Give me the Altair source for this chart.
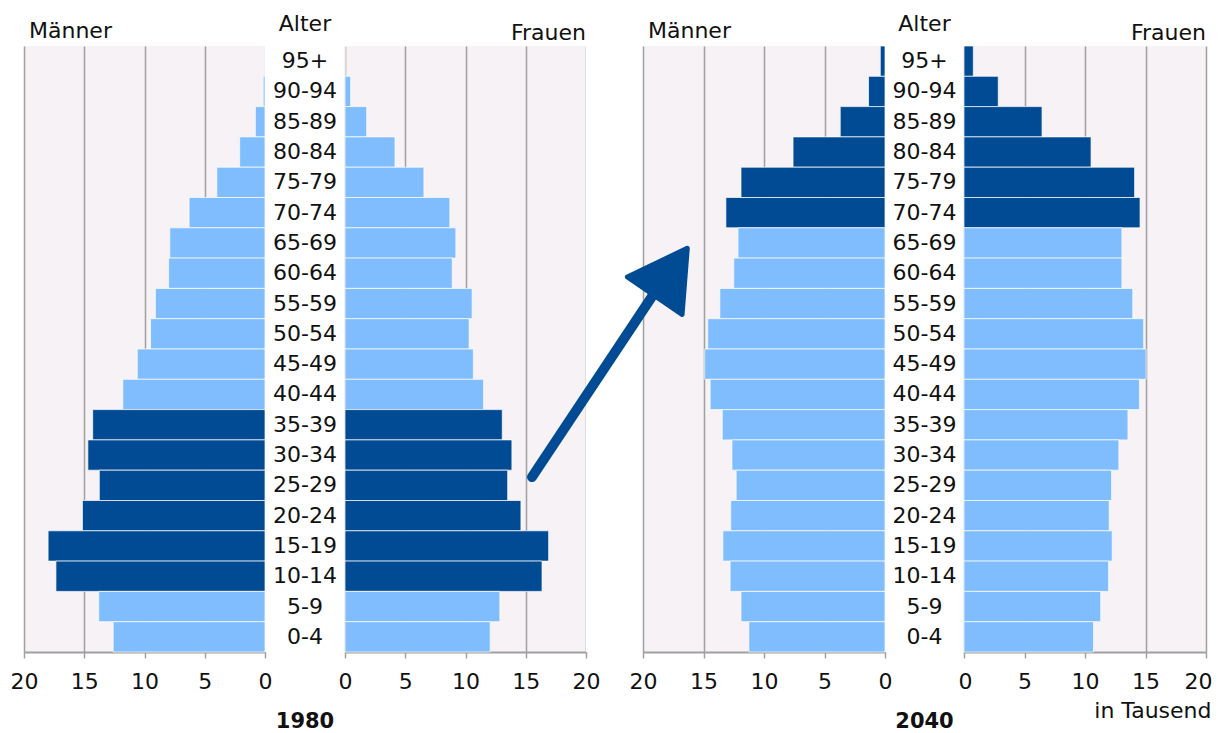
import altair as alt
import pandas as pd

# ---------------- data ----------------
ages = ["95+", "90-94", "85-89", "80-84", "75-79", "70-74", "65-69", "60-64",
        "55-59", "50-54", "45-49", "40-44", "35-39", "30-34", "25-29", "20-24",
        "15-19", "10-14", "5-9", "0-4"]

men_1980 = [0.0, 0.15, 0.8, 2.1, 4.0, 6.3, 7.9, 8.0, 9.1, 9.5, 10.6, 11.8,
            14.3, 14.7, 13.75, 15.15, 18.0, 17.35, 13.8, 12.6]
women_1980 = [0.0, 0.47, 1.8, 4.15, 6.55, 8.7, 9.2, 8.9, 10.55, 10.3, 10.65, 11.5,
              13.05, 13.85, 13.5, 14.6, 16.9, 16.35, 12.85, 12.05]
men_2040 = [0.39, 1.36, 3.7, 7.6, 11.9, 13.15, 12.15, 12.5, 13.65, 14.65, 14.9, 14.45,
            13.45, 12.65, 12.3, 12.75, 13.4, 12.8, 11.9, 11.25]
women_2040 = [0.77, 2.83, 6.45, 10.5, 14.1, 14.55, 13.05, 13.05, 13.95, 14.85, 15.05, 14.5,
              13.55, 12.8, 12.2, 12.0, 12.25, 11.95, 11.3, 10.7]

dark_1980 = ["35-39", "30-34", "25-29", "20-24", "15-19", "10-14"]
dark_2040 = ["95+", "90-94", "85-89", "80-84", "75-79", "70-74"]

ticks = [0, 5, 10, 15, 20]

# ---------------- style ----------------
FONT = "DejaVu Sans"
TXT = "#111111"
DARK = "#004B93"
LIGHT = "#80BDFF"
BG = "#F6F2F6"
GRID = "#A0A0A0"
H = 606


def frame(values, dark):
    return pd.DataFrame({
        "age": ages,
        "value": values,
        "grp": ["dunkel" if a in dark else "hell" for a in ages],
    })


y_enc = alt.Y("age:N", sort=ages,
              scale=alt.Scale(domain=ages, paddingInner=0, paddingOuter=0),
              axis=None)


def side(values, dark, width, men, axis_title=None):
    axis_kw = dict(values=ticks, grid=True, gridColor=GRID, gridWidth=1.5,
                   domainColor=GRID, domainWidth=2, tickColor=GRID, tickWidth=1.5,
                   tickSize=6, labelFontSize=22, labelFont=FONT, labelColor=TXT,
                   labelPadding=30, labelBaseline="alphabetic",
                   labelOverlap=False)
    if axis_title:
        axis_kw.update(title=axis_title, titleFont=FONT, titleFontSize=22,
                       titleFontWeight="normal", titleColor=TXT, titleAlign="right",
                       titleBaseline="alphabetic", titleX=width + 5, titleY=65,
                       titleAngle=0, labelFlush=True, labelFlushOffset=6)
    else:
        axis_kw.update(title=None, labelFlush=False)
    title = alt.TitleParams(
        text="Männer" if men else "Frauen",
        anchor="start" if men else "end", frame="group",
        dx=5 if men else 0, offset=-14 if men else -16, baseline="alphabetic",
        fontSize=22, font=FONT, fontWeight="normal", color=TXT)
    return alt.Chart(frame(values, dark)).mark_bar(
        stroke="white", strokeWidth=1, strokeOpacity=0.7
    ).encode(
        x=alt.X("value:Q", scale=alt.Scale(domain=[0, 20], reverse=men, nice=False),
                axis=alt.Axis(**axis_kw)),
        y=y_enc,
        color=alt.Color("grp:N", scale=alt.Scale(domain=["hell", "dunkel"],
                                                  range=[LIGHT, DARK]), legend=None),
    ).properties(width=width, height=H, title=title)


def age_panel(year, width):
    labels = alt.Chart(pd.DataFrame({"age": ages})).mark_text(
        fontSize=22, font=FONT, color=TXT, align="center", baseline="middle"
    ).encode(y=y_enc, x=alt.value(width / 2), text="age:N")
    year_txt = alt.Chart(pd.DataFrame({"year": [year]})).mark_text(
        fontSize=21, font=FONT, fontWeight="bold", color=TXT, align="center",
        baseline="alphabetic"
    ).encode(x=alt.value(width / 2), y=alt.value(H + 76), text="year:N")
    return alt.layer(labels, year_txt).properties(
        width=width, height=H,
        view=alt.ViewBackground(fill="white", stroke=None),
        title=alt.TitleParams(text="Alter", anchor="middle", frame="group",
                              offset=-7, baseline="alphabetic", fontSize=22,
                              font=FONT, fontWeight="normal", color=TXT))


one = pd.DataFrame({"a": [0]})

# empty spacer between the two pyramids
spacer = alt.Chart(one).mark_point(opacity=0).encode(
    x=alt.value(0), y=alt.value(0)
).properties(width=57, height=H, view=alt.ViewBackground(fill="white", stroke=None))

# arrow (annotation, drawn over the gap between the two pyramids)
arrow_line = alt.Chart(one).mark_rule(color=DARK, strokeWidth=10, strokeCap="round").encode(
    x=alt.value(-111), y=alt.value(431), x2=alt.value(14), y2=alt.value(243))
arrow_head = alt.Chart(one).mark_point(
    shape="triangle-up", filled=True, size=4400, angle=34.5, opacity=1,
    color=DARK, stroke=DARK, strokeWidth=5, strokeJoin="round"
).encode(x=alt.value(28), y=alt.value(226))

m80 = side(men_1980, dark_1980, 241, True)
f80 = side(women_1980, dark_1980, 241, False)
m40_bars = side(men_2040, dark_2040, 242, True)
m40 = alt.layer(m40_bars, arrow_line, arrow_head)
f40 = side(women_2040, dark_2040, 242, False, axis_title="in Tausend")

chart = alt.hconcat(
    m80, age_panel("1980", 80), f80, spacer, m40, age_panel("2040", 79), f40,
    spacing=0, bounds="flush"
).properties(
    padding={"left": 2, "top": 5, "right": 0, "bottom": 0}
).configure_view(fill=BG, stroke=None)

chart.save("out.html", embed_options={"renderer": "svg", "actions": False})
